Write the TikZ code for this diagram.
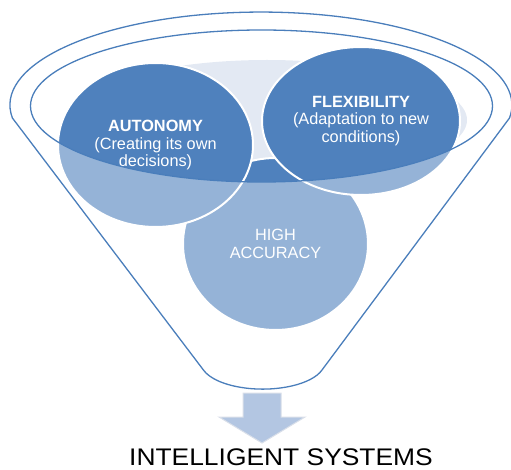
\documentclass[tikz,border=0pt]{standalone}
\usepackage{fontspec}
\setmainfont{Liberation Sans}
\usetikzlibrary{shapes.geometric}
\definecolor{accent}{HTML}{4F81BD}
\definecolor{rim}{HTML}{4A7EBB}
\definecolor{liquid}{HTML}{E3E9F3}
\definecolor{arrowfill}{HTML}{B3C6E2}
\definecolor{arrowedge}{HTML}{D9DFE9}
\tikzset{
  bubble/.style={ellipse, fill=accent, draw=white, line width=2pt,
    inner sep=0pt, align=center, text=white,
    font=\fontsize{16.3}{17.5}\selectfont},
  rimline/.style={draw=rim, line width=1.3pt, line join=round},
}
\begin{document}
\begin{tikzpicture}[x=1pt, y=-1pt]
\useasboundingbox (0,0) rectangle (511,470);

% liquid surface inside the funnel mouth
\fill[liquid] (267,120) ellipse [x radius=200, y radius=60];

% the three ingredients
\node[bubble, minimum width=185, minimum height=172] (acc) at (275.5,244)
  {HIGH\\ACCURACY};
\node[bubble, minimum width=195, minimum height=164] (auto) at (155.5,145)
  {\textbf{AUTONOMY}\\(Creating its own\\decisions)};
\node[bubble, minimum width=198, minimum height=148] (flex) at (361,121)
  {\textbf{FLEXIBILITY}\\(Adaptation to new\\conditions)};

% translucent front wall of the funnel below the mouth
\fill[white, opacity=0.4, even odd rule]
  (0,0) rectangle (511,470)
  (261.5,106) ellipse [x radius=231, y radius=76];

% funnel outline: outer rim, sides and rounded spout
\draw[rimline] (12.4,118)
  arc[start angle=172, end angle=368, x radius=251, y radius=93]
  -- (322,370)
  arc[start angle=17, end angle=163, x radius=62, y radius=27]
  -- cycle;
% inner rim of the mouth
\draw[rimline] (261.5,106) ellipse [x radius=231, y radius=76];

% output arrow
\coordinate (tip) at (262,443);
\draw[fill=arrowfill, draw=arrowedge, line width=1pt, line join=miter]
  (243,393) -- (281,393) -- (281,417) -- (305,417) -- (tip)
  -- (219,417) -- (243,417) -- cycle;

% result
\node[anchor=base, inner sep=0pt, text depth=0pt,
      font=\fontsize{24}{28}\selectfont]
  (result) at (281,465) {\scalebox{1.1}[1]{INTELLIGENT SYSTEMS}};
\end{tikzpicture}
\end{document}
